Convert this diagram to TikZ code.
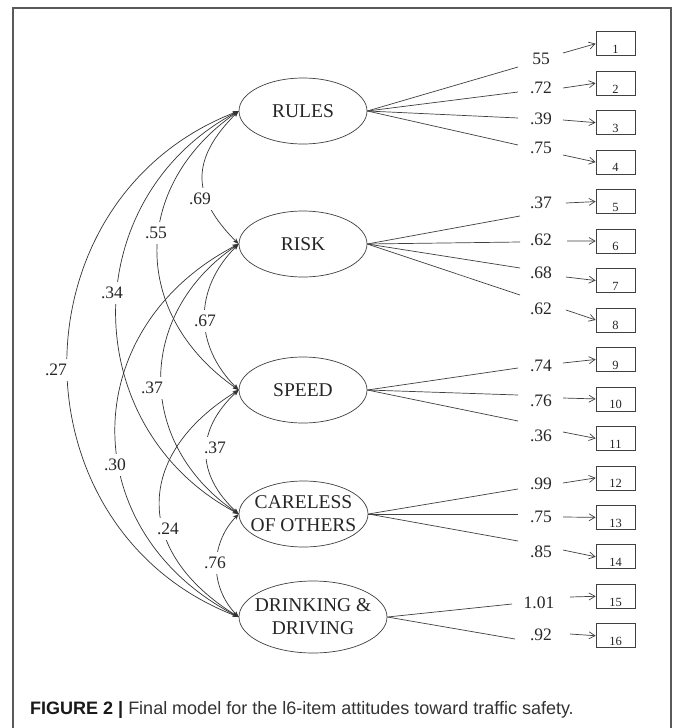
\documentclass[tikz,border=0pt]{standalone}
\usepackage{fontspec}
\setmainfont{Liberation Serif}
\newfontfamily\capfont{Liberation Sans}
\usetikzlibrary{shapes.geometric,arrows.meta,calc}
\begin{document}
\begin{tikzpicture}[x=1pt,y=-1pt,
  lat/.style={ellipse,draw=black!75,line width=0.7pt,inner sep=0pt,minimum width=128pt,minimum height=66pt,font=\fontsize{19.5}{23}\selectfont,align=center,text=black!85},
  obs/.style={rectangle,draw=black!75,line width=0.7pt,minimum width=39pt,minimum height=24pt,inner sep=0pt},
  num/.style={font=\fontsize{17.5}{20}\selectfont,inner sep=1pt,text=black!85},
  cnum/.style={num,fill=white,inner xsep=2pt,inner ysep=5pt},
  small/.style={font=\fontsize{12.5}{14}\selectfont,inner sep=0pt,text=black!85},
  load/.style={draw=black!75,line width=0.7pt},
  err/.style={draw=black!75,line width=0.7pt,-{Straight Barb[length=6pt,width=7pt]}},
  cov/.style={draw=black!80,line width=0.7pt,{Stealth[length=6pt,width=4.5pt]}-{Stealth[length=6pt,width=4.5pt]}},
  frame/.style={draw=black!65,line width=1.3pt}
]
\useasboundingbox (0,0) rectangle (675,728);
\fill[white] (0,0) rectangle (675,728);
\coordinate (f1) at (13,728);
\coordinate (f2) at (13,8);
\coordinate (f3) at (671,8);
\coordinate (f4) at (671,728);
\draw[frame] (f1) -- (f2) -- (f3) -- (f4);

% latent factors
\node[lat] (rules) at (303,111) {RULES};
\node[lat] (risk) at (303,244) {RISK};
\node[lat] (speed) at (303,390) {SPEED};
\node[lat,minimum width=129pt] (care) at (303.5,514) {\makebox[0pt]{CARELESS}\\\makebox[0pt]{OF OTHERS}};
\node[lat,minimum width=148pt,minimum height=72pt] (drink) at (313,617) {\makebox[0pt]{DRINKING \&}\\\makebox[0pt]{DRIVING}};

% indicators
\foreach \i/\f/\ex/\ey/\lab/\lx/\ly/\sx/\sy in {
1/rules/518/67/55/541/59/563/53,
2/rules/518/92/.72/541/88/563/88,
3/rules/518/118/.39/541/119/563/120,
4/rules/518/145/.75/541/148/563/155,
5/risk/520/216/.37/541/203/566/203,
6/risk/520/242/.62/541/240/567/241,
7/risk/520/268/.68/541/273/566/277,
8/risk/520/295/.62/541/309/566/310,
9/speed/518/368/.74/541/366/563/363,
10/speed/518/395/.76/541/401/563/398,
11/speed/518/421/.36/541/436/563/432,
12/care/518/489/.99/541/484/563/483,
13/care/518/514/.75/541/517/563/517,
14/care/518/541/.85/541/552/563/550,
15/drink/512/604/1.01/539/603/570/597,
16/drink/515/639/.92/541/635/570/634}
{
  \node[obs] (b\i) at (615.5,{43.7+(\i-1)*39.47}) {};
  \node[small,anchor=base] (n\i) at ($(b\i.south)+(0,-2.5)$) {\i};
  \coordinate (e\i) at (\ex,\ey);
  \draw[load] (\f.east) -- (e\i);
  \node[num] (l\i) at (\lx,\ly) {\lab};
  \coordinate (s\i) at (\sx,\sy);
  \draw[err] (s\i) -- (b\i.west);
}

% covariances
\draw[cov] (rules.west) .. controls +(-48,48) and +(-48,-48) .. (risk.west);
\draw[cov] (rules.west) .. controls +(-108,75) and +(-108,-75) .. (speed.west);
\draw[cov] (rules.west) .. controls +(-163,87) and +(-163,-87) .. (care.west);
\draw[cov] (rules.west) .. controls +(-228,88) and +(-228,-88) .. (drink.west);
\draw[cov] (risk.west) .. controls +(-45,45) and +(-45,-45) .. (speed.west);
\draw[cov] (risk.west) .. controls +(-103,70) and +(-103,-70) .. (care.west);
\draw[cov] (risk.west) .. controls +(-164,85) and +(-164,-85) .. (drink.west);
\draw[cov] (speed.west) .. controls +(-43,40) and +(-43,-40) .. (care.west);
\draw[cov] (speed.west) .. controls +(-105,65) and +(-105,-65) .. (drink.west);
\draw[cov] (care.west) .. controls +(-29,30) and +(-29,-30) .. (drink.west);

\node[cnum] (c1) at (200,199) {.69};
\node[cnum] (c2) at (156,233) {.55};
\node[cnum] (c3) at (112,293) {.34};
\node[cnum] (c4) at (56,370) {.27};
\node[cnum] (c5) at (205,321) {.67};
\node[cnum] (c6) at (152,388) {.37};
\node[cnum] (c7) at (115,465) {.30};
\node[cnum] (c8) at (215,448) {.37};
\node[cnum] (c9) at (168,529) {.24};
\node[cnum] (c10) at (215,563) {.76};

% caption
\node[anchor=base west,inner sep=0pt,font=\capfont\fontsize{18}{21}\selectfont,text=black!80] (cap) at (30,714) {\textcolor{black!90}{\textbf{FIGURE 2 |}} Final model for the l6-item attitudes toward traffic safety.};
\end{tikzpicture}
\end{document}
